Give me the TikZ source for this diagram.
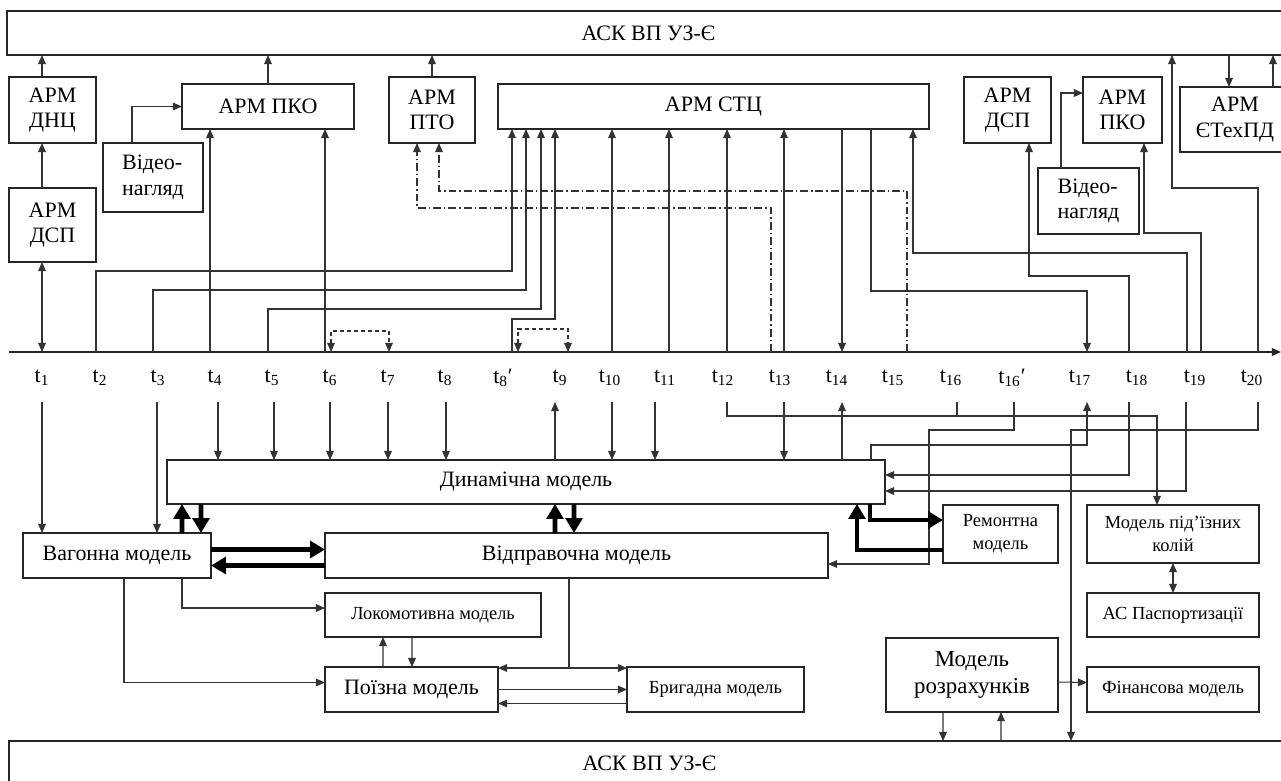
\documentclass[tikz,border=0pt]{standalone}
\usepackage{fontspec}
\setmainfont{Liberation Serif}
\usetikzlibrary{arrows.meta,calc}

\begin{document}
\begin{tikzpicture}[
    x=0.2mm, y=-0.2mm,
    >={Triangle[length=5.2pt,width=4.4pt]},
    box/.style={rectangle, draw=black!85, line width=0.6pt, inner sep=0pt, outer sep=0pt,
      align=center, font=\fontsize{12.5}{14.5}\selectfont},
    sbox/.style={box, font=\fontsize{10.5}{13}\selectfont},
    tlab/.style={inner sep=1pt, font=\fontsize{12.5}{14.5}\selectfont},
    flow/.style={->, line width=0.6pt, draw=black!80},
    bi/.style={<->, line width=0.6pt, draw=black!80},
    link/.style={line width=0.6pt, draw=black!80},
    dflow/.style={<->, line width=0.6pt, draw=black!80, dash pattern=on 2.3pt off 1.7pt},
    ddflow/.style={->, line width=0.6pt, draw=black!80, dash pattern=on 4.5pt off 1.7pt on 0.8pt off 1.7pt},
    fat/.style={-{Triangle[length=8.5pt,width=9.5pt]}, line width=2.8pt},
    axis/.style={->, line width=0.9pt, draw=black!85}
  ]
  \useasboundingbox (0,0) rectangle (1281,780);

  % systems and workstations
  \node[box, minimum width=256.6mm, minimum height=8.8mm] (asku1) at (648.5,33) {АСК ВП УЗ-Є};
  \node[box, minimum width=256.2mm, minimum height=8.8mm] (asku2) at (649.5,763) {АСК ВП УЗ-Є};
  \node[box, minimum width=17.4mm, minimum height=13.2mm] (dnc) at (52.5,110) {АРМ\\ДНЦ};
  \node[box, minimum width=17.4mm, minimum height=14.8mm] (dsp1) at (52.5,225) {АРМ\\ДСП};
  \node[box, minimum width=20mm, minimum height=13.8mm, align=left] (video1) at (153,177.5) {Відео-\\нагляд};
  \node[box, minimum width=34.4mm, minimum height=9mm] (pko1) at (268,106.5) {АРМ ПКО};
  \node[box, minimum width=17.2mm, minimum height=13.2mm] (pto) at (432,110) {АРМ\\ПТО};
  \node[box, minimum width=86.2mm, minimum height=9mm] (stc) at (713.5,106.5) {АРМ СТЦ};
  \node[box, minimum width=17.4mm, minimum height=13.2mm] (dsp2) at (1007.5,110) {АРМ\\ДСП};
  \node[box, minimum width=15.8mm, minimum height=13.2mm] (pko2) at (1122.5,110) {АРМ\\ПКО};
  \node[box, minimum width=20.2mm, minimum height=13.2mm, align=left] (video2) at (1088.5,201) {Відео-\\нагляд};
  \node[box, minimum width=22mm, minimum height=13mm] (etex) at (1235,119.5) {АРМ\\ЄТехПД};

  % models
  \node[box, minimum width=143.6mm, minimum height=8.8mm] (dyn) at (526,482) {Динамічна модель};
  \node[box, minimum width=37.6mm, minimum height=9mm] (wag) at (117,555.5) {Вагонна модель};
  \node[box, minimum width=100.6mm, minimum height=9mm] (vidpr) at (576.5,555.5) {Відправочна модель};
  \node[sbox, minimum width=43.2mm, minimum height=8.8mm] (loko) at (433,615) {Локомотивна модель};
  \node[box, minimum width=34.6mm, minimum height=9mm] (poizd) at (411.5,689.5) {Поїзна модель};
  \node[sbox, minimum width=35.4mm, minimum height=9mm] (bryg) at (715.5,689.5) {Бригадна модель};
  \node[sbox, minimum width=23mm, minimum height=11.6mm] (remont) at (1000.5,534) {Ремонтна\\модель};
  \node[sbox, minimum width=34.4mm, minimum height=11.6mm] (pidizd) at (1173,534) {Модель під’їзних\\колій};
  \node[sbox, minimum width=34.4mm, minimum height=8.8mm] (pasport) at (1173,615) {АС Паспортизації};
  \node[box, minimum width=34.4mm, minimum height=14.8mm, font=\fontsize{13}{15}\selectfont] (rozrah) at (972,675) {Модель\\розрахунків};
  \node[sbox, minimum width=34.4mm, minimum height=9mm] (finans) at (1173,689.5) {Фінансова модель};

  % time axis
  \coordinate (ax0) at (9,352); \coordinate (ax1) at (1281,352);
  \draw[axis] (ax0) -- (ax1);
  \node[tlab] (l1) at (42,378) {t\textsubscript{1}};
  \node[tlab] (l2) at (100,378) {t\textsubscript{2}};
  \node[tlab] (l3) at (158,378) {t\textsubscript{3}};
  \node[tlab] (l4) at (215,378) {t\textsubscript{4}};
  \node[tlab] (l5) at (272,378) {t\textsubscript{5}};
  \node[tlab] (l6) at (330,378) {t\textsubscript{6}};
  \node[tlab] (l7) at (388,378) {t\textsubscript{7}};
  \node[tlab] (l8) at (445,378) {t\textsubscript{8}};
  \node[tlab] (l8d) at (503,378) {t\textsubscript{8}′};
  \node[tlab] (l9) at (560,378) {t\textsubscript{9}};
  \node[tlab] (l10) at (610,378) {t\textsubscript{10}};
  \node[tlab] (l11) at (665,378) {t\textsubscript{11}};
  \node[tlab] (l12) at (723,378) {t\textsubscript{12}};
  \node[tlab] (l13) at (780,378) {t\textsubscript{13}};
  \node[tlab] (l14) at (837,378) {t\textsubscript{14}};
  \node[tlab] (l15) at (893,378) {t\textsubscript{15}};
  \node[tlab] (l16) at (951,378) {t\textsubscript{16}};
  \node[tlab] (l16d) at (1012,378) {t\textsubscript{16}′};
  \node[tlab] (l17) at (1080,378) {t\textsubscript{17}};
  \node[tlab] (l18) at (1137,378) {t\textsubscript{18}};
  \node[tlab] (l19) at (1195,378) {t\textsubscript{19}};
  \node[tlab] (l20) at (1252,378) {t\textsubscript{20}};

  % points on the axis (above) and under the labels (below)
  \coordinate (p1) at (42,352); \coordinate (p2) at (96,352); \coordinate (p3) at (153,352);
  \coordinate (p4) at (210,352); \coordinate (p5) at (268,352); \coordinate (p6) at (325,352);
  \coordinate (p7) at (389,352); \coordinate (p8d) at (512,352); \coordinate (p9) at (568,352);
  \coordinate (p10) at (612,352); \coordinate (p11) at (669,352); \coordinate (p12) at (727,352);
  \coordinate (p13a) at (771,352); \coordinate (p13) at (784,352); \coordinate (p14) at (842,352);
  \coordinate (p15) at (907,352); \coordinate (p17) at (1087,352); \coordinate (p18) at (1129,352);
  \coordinate (p19a) at (1187,352); \coordinate (p19b) at (1201,352); \coordinate (p20) at (1258,352);
  \coordinate (q1) at (42,402); \coordinate (q3) at (157,402); \coordinate (q4) at (218,402);
  \coordinate (q5) at (274,402); \coordinate (q6) at (330,402); \coordinate (q7) at (388,402);
  \coordinate (q8) at (446,402); \coordinate (q9) at (555,402); \coordinate (q10) at (612,402);
  \coordinate (q11) at (655,402); \coordinate (q12) at (727,402); \coordinate (q13) at (784,402);
  \coordinate (q14) at (842,402); \coordinate (q16) at (957,402); \coordinate (q16d) at (1014,402);
  \coordinate (q17) at (1087,402); \coordinate (q18) at (1129,402); \coordinate (q19) at (1186,402);
  \coordinate (q20) at (1258,402);
  \coordinate (e1) at ($(etex.north west)+(49,0)$); \coordinate (e2) at ($(etex.north west)+(93,0)$);

  % upper part
  \draw[flow] (dnc.north -| p1) -- (asku1.south -| p1);
  \draw[flow] (dsp1.north -| p1) -- (dnc.south -| p1);
  \draw[bi] (dsp1.south -| p1) -- (p1);
  \draw[flow] (pko1.north) -- (pko1.north |- asku1.south);
  \draw[flow] (pto.north) -- (pto.north |- asku1.south);
  \draw[flow] ($(video1.north west)+(29,0)$) |- (pko1.west);
  \draw[flow] (p4) -- (pko1.south -| p4); \draw[flow] (p6) -- (pko1.south -| p6);
  \draw[flow] (p2) -- ++(0,-81) -| ($(stc.south west)+(14,0)$);
  \draw[flow] (p3) -- ++(0,-62) -| ($(stc.south west)+(28,0)$);
  \draw[flow] (p5) -- ++(0,-43) -| ($(stc.south west)+(43,0)$);
  \draw[flow] (p8d) -- ++(0,-33) -| ($(stc.south west)+(57,0)$);
  \draw[dflow] ($(p6)+(6,0)$) -- ++(0,-21) -| (p7);
  \draw[dflow] ($(p8d)+(6,0)$) -- ++(0,-23) -| (p9);
  \draw[flow] (p10) -- (stc.south -| p10); \draw[flow] (p11) -- (stc.south -| p11);
  \draw[flow] (p12) -- (stc.south -| p12); \draw[flow] (p13) -- (stc.south -| p13);
  \draw[flow] (stc.south -| p14) -- (p14);
  \draw[flow] ($(stc.south west)+(373,0)$) -- ++(0,162) -| (p17);
  \draw[flow] (p19a) -- ++(0,-99) -| ($(stc.south west)+(415,0)$);
  \draw[ddflow] (p13a) -- ++(0,-144) -| ($(pto.south west)+(28,0)$);
  \draw[ddflow] (p15) -- ++(0,-161) -| ($(pto.south west)+(50,0)$);
  \draw[flow] (p18) -- ++(0,-76) -| ($(dsp2.south west)+(65,0)$);
  \draw[flow] (p19b) -- ++(0,-119) -| ($(pko2.south west)+(61,0)$);
  \draw[flow] (p20) -- ++(0,-164) -| ($(asku1.south west)+(1165,0)$);
  \draw[flow] ($(video2.north west)+(23,0)$) |- ($(pko2.north west)+(0,16)$);
  \draw[flow] (asku1.south -| e1) -- (e1); \draw[flow] (e2) -- (asku1.south -| e2);

  % lower part
  \draw[flow] (q1) -- (wag.north -| q1); \draw[flow] (q3) -- (wag.north -| q3);
  \draw[flow] (q4) -- (dyn.north -| q4); \draw[flow] (q5) -- (dyn.north -| q5);
  \draw[flow] (q6) -- (dyn.north -| q6); \draw[flow] (q7) -- (dyn.north -| q7);
  \draw[flow] (q8) -- (dyn.north -| q8); \draw[flow] (dyn.north -| q9) -- (q9);
  \draw[flow] (q10) -- (dyn.north -| q10); \draw[flow] (q11) -- (dyn.north -| q11);
  \draw[flow] (q13) -- (dyn.north -| q13); \draw[flow] (dyn.north -| q14) -- (q14);
  \draw[flow] (q12) -- ++(0,14) -| ($(pidizd.north west)+(70,0)$);
  \draw[link] (q16) -- ++(0,14);
  \draw[flow] (q16d) -- ++(0,28) -- ++(-85,0) |- ($(vidpr.south east)+(0,-14)$);
  \draw[flow] ($(dyn.north west)+(704,0)$) -- ++(0,-15) -| (q17);
  \draw[flow] (q18) |- ($(dyn.north east)+(0,15)$);
  \draw[flow] (q19) |- ($(dyn.north east)+(0,31)$);
  \draw[flow] (q20) -- ++(0,28) -| ($(asku2.north west)+(1062,0)$);

  % links between models
  \draw[fat] ($(wag.north west)+(159,0)$) -- ($(dyn.south west)+(15,0)$);
  \draw[fat] ($(dyn.south west)+(34,0)$) -- ($(wag.north west)+(178,0)$);
  \draw[fat] ($(wag.east)+(0,-6)$) -- ($(vidpr.west)+(0,-6)$);
  \draw[fat] ($(vidpr.west)+(0,10)$) -- ($(wag.east)+(0,10)$);
  \draw[fat] ($(vidpr.north west)+(230,0)$) -- ($(dyn.south west)+(388,0)$);
  \draw[fat] ($(dyn.south west)+(407,0)$) -- ($(vidpr.north west)+(249,0)$);
  \draw[fat] ($(dyn.south west)+(703,0)$) |- ($(remont.north west)+(0,15)$);
  \draw[fat] ($(remont.south west)+(0,-13)$) -| ($(dyn.south west)+(690,0)$);
  \draw[flow] ($(wag.south west)+(159,0)$) |- ($(loko.west)+(0,-7)$);
  \draw[flow] ($(wag.south west)+(101,0)$) |- ($(poizd.west)+(0,-7)$);
  \draw[flow] ($(poizd.north west)+(58,0)$) -- ($(loko.south west)+(58,0)$);
  \draw[flow] ($(loko.south west)+(87,0)$) -- ($(poizd.north west)+(87,0)$);
  \draw[link] ($(vidpr.south west)+(244,0)$) -- ++(0,90);
  \draw[bi] ($(poizd.north east)+(0,1)$) -- ($(bryg.north west)+(0,1)$);
  \draw[flow] (poizd.east) -- (bryg.west);
  \draw[flow] ($(bryg.west)+(0,14)$) -- ($(poizd.east)+(0,14)$);
  \draw[bi] (pidizd.south) -- (pasport.north);
  \draw[flow] ($(rozrah.east)+(0,7)$) -- ($(finans.west)+(0,-7)$);
  \draw[flow] ($(rozrah.south west)+(57,0)$) -- ($(asku2.north west)+(934,0)$);
  \draw[flow] ($(asku2.north west)+(992,0)$) -- ($(rozrah.south west)+(115,0)$);
\end{tikzpicture}
\end{document}
